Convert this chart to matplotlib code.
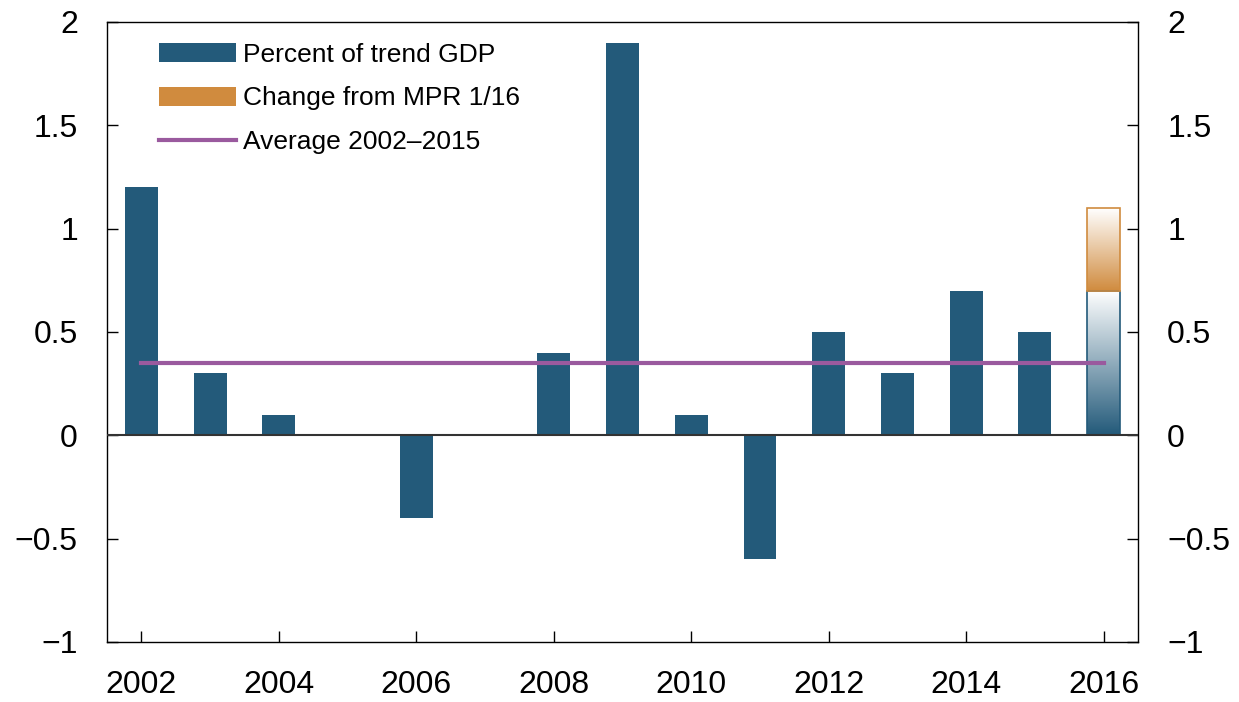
import numpy as np
import matplotlib.pyplot as plt
from matplotlib.colors import LinearSegmentedColormap
from matplotlib.patches import Patch
from matplotlib.lines import Line2D

plt.rcParams['font.family'] = ['Liberation Sans', 'DejaVu Sans']

years = [2002, 2003, 2004, 2005, 2006, 2007, 2008, 2009, 2010, 2011, 2012, 2013, 2014, 2015]
gap = [1.2, 0.3, 0.1, 0.0, -0.4, 0.0, 0.4, 1.9, 0.1, -0.6, 0.5, 0.3, 0.7, 0.5]
proj_year = 2016
proj_gap = 0.7
proj_change = 0.4
average = 0.35
avg_span = [2002, 2016]

BLUE = '#235a7a'
ORANGE = '#d08b3e'
PURPLE = '#9a5a9e'
WIDTH = 0.48

fig = plt.figure(figsize=(12.39, 7.02), dpi=100)
ax = fig.add_axes([0.0864, 0.0855, 0.8321, 0.8832])

ax.bar(years, gap, width=WIDTH, color=BLUE, zorder=2)

# gradient bars for the projection year: white on top, full colour at bottom
def gradient_bar(x, y0, y1, color):
    cmap = LinearSegmentedColormap.from_list('g', ['white', color])
    grad = np.linspace(0, 1, 256).reshape(-1, 1)
    rect = plt.Rectangle((x - WIDTH / 2, y0), WIDTH, y1 - y0, facecolor='none',
                         edgecolor=color, lw=1.2, zorder=3)
    ax.add_patch(rect)
    im = ax.imshow(grad, cmap=cmap, aspect='auto', origin='upper',
                   extent=(x - WIDTH / 2, x + WIDTH / 2, y0, y1), zorder=2)
    im.set_clip_path(rect)

gradient_bar(proj_year, 0, proj_gap, BLUE)
gradient_bar(proj_year, proj_gap, proj_gap + proj_change, ORANGE)

ax.plot(avg_span, [average, average], color=PURPLE, lw=3, zorder=4)
ax.axhline(0, color='#333333', lw=1.5, zorder=3)

ax.set_xlim(2001.5, 2016.5)
ax.set_ylim(-1, 2)
ax.set_xticks(range(2002, 2017, 2))
yt = [-1, -0.5, 0, 0.5, 1, 1.5, 2]
ylabels = ['\u22121', '\u22120.5', '0', '0.5', '1', '1.5', '2']
ax.set_yticks(yt)
ax.set_yticklabels(ylabels)
ax.tick_params(axis='both', direction='in', length=8, width=1, labelsize=23)
ax.tick_params(axis='y', left=True, right=True, labelleft=True, labelright=True, pad=21)
ax.tick_params(axis='x', pad=20)
for s in ax.spines.values():
    s.set_linewidth(1)

handles = [Patch(facecolor=BLUE), Patch(facecolor=ORANGE),
           Line2D([0], [0], color=PURPLE, lw=3)]
labels = ['Percent of trend GDP', 'Change from MPR 1/16', 'Average 2002\u20132015']
ax.legend(handles, labels, loc='upper left', frameon=False, fontsize=19,
          handlelength=2.95, handleheight=0.75, handletextpad=0.25, labelspacing=0.75,
          bbox_to_anchor=(0.027, 1.005))

fig.savefig('out.png', dpi=100)
